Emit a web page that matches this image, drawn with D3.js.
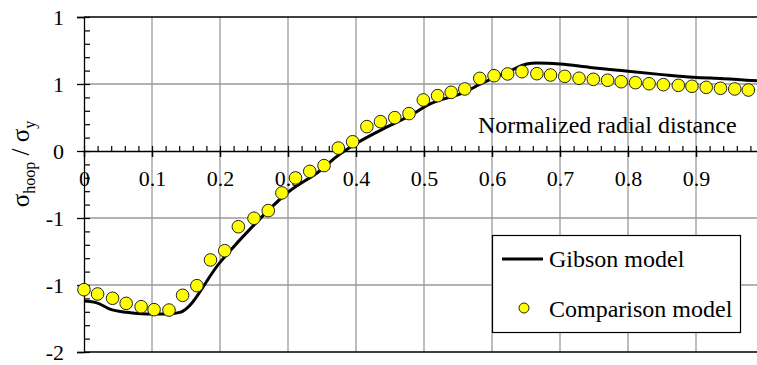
<!DOCTYPE html>
<html>
<head>
<meta charset="utf-8">
<script src="https://cdn.jsdelivr.net/npm/d3@7"></script>
<style>
  body { margin: 0; background: #fff; }
  svg text { font-family: "Liberation Serif", "Times New Roman", Times, serif; }
</style>
</head>
<body>
<script>
// Gibson model curve (x = normalized radial distance, y = hoop / yield)
const gibsonX = [0, 0.02, 0.038, 0.063, 0.092, 0.122, 0.141, 0.2, 0.249, 0.30, 0.347, 0.372, 0.399, 0.435, 0.479, 0.509, 0.558, 0.587, 0.622, 0.651, 0.666, 0.70, 0.744, 0.79, 0.85, 0.896, 0.94, 1.0];
const gibsonY = [-1.12, -1.135, -1.18, -1.204, -1.216, -1.216, -1.204, -0.831, -0.557, -0.308, -0.147, -0.04, 0.052, 0.152, 0.263, 0.351, 0.435, 0.51, 0.587, 0.649, 0.657, 0.649, 0.624, 0.6, 0.57, 0.55, 0.54, 0.52];

// Comparison model points
const compX = [0, 0.020, 0.042, 0.062, 0.084, 0.103, 0.125, 0.145, 0.166, 0.186, 0.207, 0.227, 0.25, 0.271, 0.291, 0.311, 0.332, 0.353, 0.374, 0.395, 0.416, 0.436, 0.457, 0.478, 0.499, 0.52, 0.54, 0.56, 0.582, 0.603, 0.623, 0.644, 0.666, 0.686, 0.707, 0.728, 0.749, 0.770, 0.79, 0.811, 0.831, 0.852, 0.874, 0.894, 0.915, 0.936, 0.957, 0.977];
const compY = [-1.035, -1.067, -1.099, -1.137, -1.162, -1.184, -1.187, -1.077, -1.005, -0.813, -0.744, -0.565, -0.502, -0.445, -0.313, -0.201, -0.152, -0.109, 0.022, 0.069, 0.182, 0.219, 0.249, 0.279, 0.381, 0.413, 0.438, 0.463, 0.542, 0.562, 0.575, 0.592, 0.577, 0.567, 0.557, 0.543, 0.535, 0.528, 0.517, 0.51, 0.502, 0.495, 0.49, 0.483, 0.475, 0.468, 0.463, 0.455];

// axis ticks
const xTicks = [0, 0.1, 0.2, 0.3, 0.4, 0.5, 0.6, 0.7, 0.8, 0.9];
const xTickLabels = ["0", "0.1", "0.2", "0.3", "0.4", "0.5", "0.6", "0.7", "0.8", "0.9"];
const yTicks = [1, 0.5, 0, -0.5, -1, -1.5];
const yTickLabels = ["1", "1", "0", "-1", "-1", "-2"];

const width = 757, height = 365;
const plot = { left: 84, right: 764, top: 17, bottom: 352 };

const svg = d3.select('body').append('svg')
  .attr('width', width)
  .attr('height', height);

const x = d3.scaleLinear().domain([0, 1]).range([plot.left, plot.right]);
const y = d3.scaleLinear().domain([-1.5, 1]).range([plot.bottom, plot.top]);

// gridlines
svg.append('g')
  .selectAll('line')
  .data(xTicks.slice(1).concat([1]))
  .enter().append('line')
  .attr('x1', d => x(d)).attr('x2', d => x(d))
  .attr('y1', plot.top).attr('y2', plot.bottom)
  .attr('stroke', '#9a9a9a').attr('stroke-width', 1.3);

svg.append('g')
  .selectAll('line')
  .data([0.5, -0.5, -1])
  .enter().append('line')
  .attr('x1', plot.left).attr('x2', plot.right)
  .attr('y1', d => y(d)).attr('y2', d => y(d))
  .attr('stroke', '#9a9a9a').attr('stroke-width', 1.3);

// plot border top & bottom
svg.append('line').attr('x1', plot.left).attr('x2', plot.right).attr('y1', y(1)).attr('y2', y(1))
  .attr('stroke', '#000').attr('stroke-width', 1.3);
svg.append('line').attr('x1', plot.left).attr('x2', plot.right).attr('y1', y(-1.5)).attr('y2', y(-1.5))
  .attr('stroke', '#000').attr('stroke-width', 1.3);

// y axis: major ticks outward with labels
const yAxis = svg.append('g')
  .attr('transform', `translate(${plot.left},0)`)
  .call(d3.axisLeft(y).tickValues(yTicks).tickSize(7).tickPadding(13)
    .tickFormat((d, i) => yTickLabels[i]));
yAxis.attr('font-family', null);
yAxis.select('.domain').attr('stroke', '#000').attr('stroke-width', 1.3);
yAxis.selectAll('line').attr('stroke-width', 1.3);
yAxis.selectAll('text').attr('font-size', 22).attr('dy', '0.36em').attr('fill', '#000');

// y minor ticks inward
const yMinor = svg.append('g')
  .attr('transform', `translate(${plot.left},0)`)
  .call(d3.axisRight(y).tickValues(d3.range(-15, 11).map(v => v / 10)).tickSize(6).tickFormat(''));
yMinor.select('.domain').remove();
yMinor.selectAll('line').attr('stroke-width', 1.2);

// x axis at y = 0
const xAxis = svg.append('g')
  .attr('transform', `translate(0,${y(0)})`)
  .call(d3.axisBottom(x).tickValues(xTicks.concat([1])).tickSize(6).tickSizeOuter(0)
    .tickFormat((d, i) => xTickLabels[i] || ''));
xAxis.attr('font-family', null);
xAxis.select('.domain').attr('stroke', '#000').attr('stroke-width', 1.5);
xAxis.selectAll('line').attr('stroke-width', 1.5);
xAxis.selectAll('text').attr('font-size', 22)
  .attr('y', 35).attr('dy', 0).attr('fill', '#000');

const xMinor = svg.append('g')
  .attr('transform', `translate(0,${y(0)})`)
  .call(d3.axisTop(x).tickValues(d3.range(0, 51).map(v => v / 50)).tickSize(5).tickFormat(''));
xMinor.select('.domain').remove();
xMinor.selectAll('line').attr('stroke-width', 1.2);

// axis titles
svg.append('text')
  .attr('x', 478).attr('y', 133)
  .attr('font-size', 24)
  .text('Normalized radial distance');

const yTitle = svg.append('text')
  .attr('transform', 'translate(29,164) rotate(-90)')
  .attr('text-anchor', 'middle')
  .attr('font-size', 25);
yTitle.append('tspan').text('σ');
yTitle.append('tspan').attr('font-size', 16).attr('dy', 6).text('hoop');
yTitle.append('tspan').attr('dy', -6).text(' / σ');
yTitle.append('tspan').attr('font-size', 16).attr('dy', 6).text('y');

// Gibson line
const gibson = gibsonX.map((v, i) => [v, gibsonY[i]]);
svg.append('path')
  .datum(gibson)
  .attr('fill', 'none')
  .attr('stroke', '#000')
  .attr('stroke-width', 3)
  .attr('stroke-linejoin', 'round')
  .attr('d', d3.line().x(d => x(d[0])).y(d => y(d[1])).curve(d3.curveMonotoneX));

// Comparison dots
const comp = compX.map((v, i) => [v, compY[i]]);
svg.append('g')
  .selectAll('circle')
  .data(comp)
  .enter().append('circle')
  .attr('cx', d => x(d[0]))
  .attr('cy', d => y(d[1]))
  .attr('r', 6.3)
  .attr('fill', '#ffff00')
  .attr('stroke', '#222')
  .attr('stroke-width', 1);

// legend
const legend = svg.append('g');
legend.append('rect')
  .attr('x', 492.5).attr('y', 235.5).attr('width', 248).attr('height', 97)
  .attr('fill', '#fff').attr('stroke', '#000').attr('stroke-width', 1.2);
legend.append('line')
  .attr('x1', 502).attr('x2', 543).attr('y1', 259).attr('y2', 259)
  .attr('stroke', '#000').attr('stroke-width', 3);
legend.append('text').attr('x', 549).attr('y', 267).attr('font-size', 24).text('Gibson model');
legend.append('circle')
  .attr('cx', 524).attr('cy', 308).attr('r', 5)
  .attr('fill', '#ffff00').attr('stroke', '#222').attr('stroke-width', 1);
legend.append('text').attr('x', 549).attr('y', 317).attr('font-size', 24).text('Comparison model');
</script>
</body>
</html>
